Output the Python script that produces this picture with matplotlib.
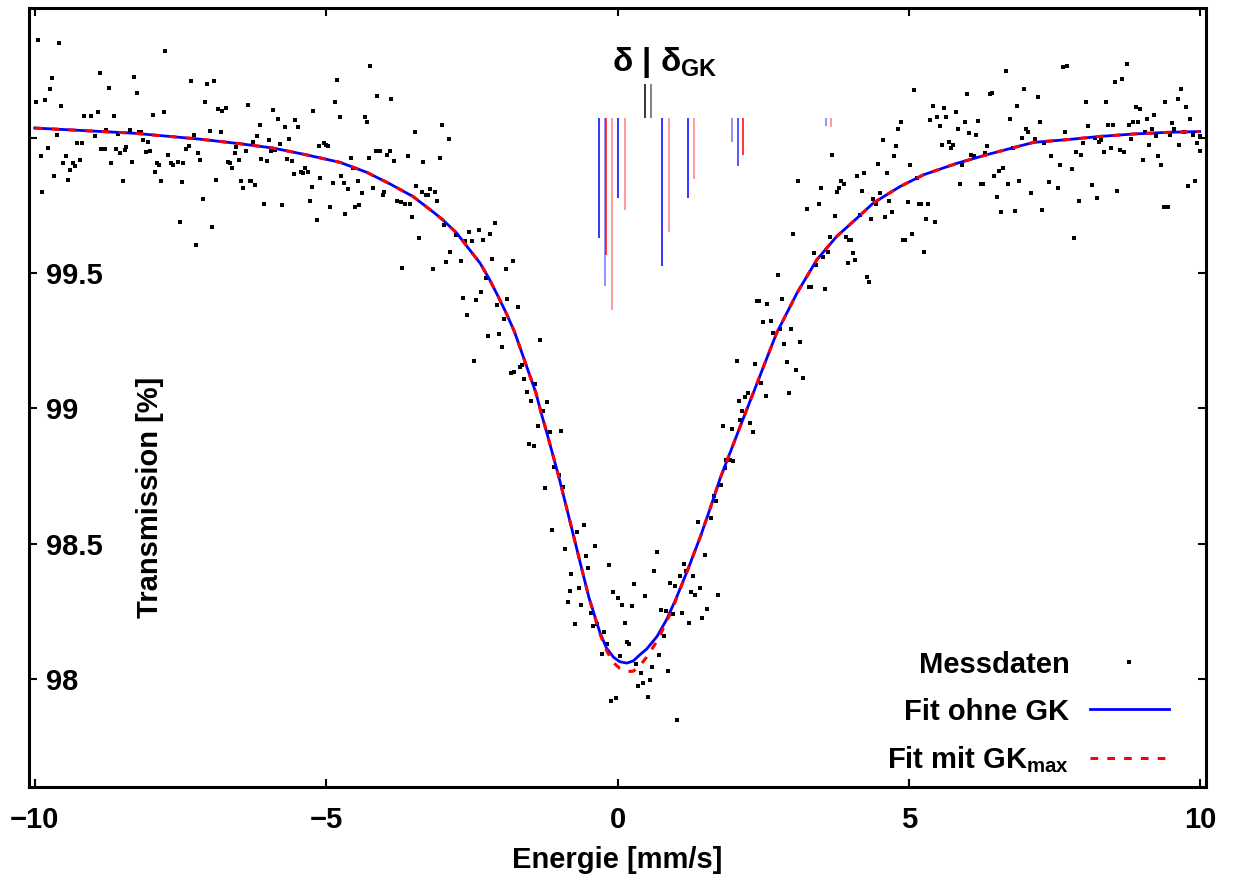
import matplotlib
matplotlib.use("Agg")
import matplotlib.pyplot as plt

plt.rcParams['font.family'] = ['Liberation Sans', 'DejaVu Sans']
plt.rcParams['font.weight'] = 'bold'
plt.rcParams['mathtext.fontset'] = 'custom'
plt.rcParams['mathtext.bf'] = 'Liberation Sans:bold'
plt.rcParams['mathtext.rm'] = 'Liberation Sans:bold'

# Messdaten (Energie in mm/s, Transmission in %)
mess_e = [
    -9.95, -9.59, -7.76, -8.88, -9.71, -8.30, -7.32, -7.05, -6.93, -9.74,
    -8.73, -8.25, -9.98, -9.83, -7.08, -9.55, -8.92, -9.16, -9.04, -8.64,
    -7.97, -7.79, -6.85, -6.78, -6.72, -6.34, -8.77, -8.37, -8.21, -8.17,
    -7.00, -6.81, -9.62, -8.97, -8.58, -7.27, -8.14, -8.06, -9.28, -9.19,
    -9.78, -8.86, -8.80, -8.61, -8.43, -8.46, -8.53, -8.09, -8.03, -7.40,
    -7.36, -7.20, -6.57, -6.54, -6.38, -9.90, -9.47, -7.72, -7.17, -6.50,
    -9.23, -9.51, -9.35, -9.31, -8.70, -8.33, -7.91, -7.87, -7.67, -7.63,
    -7.55, -7.45, -6.69, -6.65, -6.62, -9.40, -7.94, -9.67, -9.43, -8.49,
    -7.83, -7.48, -6.89, -6.46, -6.31, -6.42, -9.87, -7.12, -7.51, -6.96, -7.24,
    -4.24, -4.82, -4.12, -3.88, -4.85, -5.92, -5.22, -4.76, -4.33, -4.30,
    -5.83, -5.53, -3.02, -6.14, -5.71, -5.49, -3.48, -6.19, -2.90, -5.98,
    -6.26, -5.79, -5.64, -5.04, -5.00, -4.97, -5.12, -5.95, -5.87, -4.15,
    -4.07, -3.91, -3.96, -4.58, -4.27, -3.60, -3.05, -6.11, -6.02, -5.68,
    -5.59, -3.33, -3.84, -5.37, -5.43, -5.40, -5.31, -5.56, -4.54, -4.74,
    -5.10, -4.46, -6.29, -6.22, -4.89, -4.70, -5.25, -4.62, -4.19, -4.00,
    -4.03, -4.39, -3.45, -3.36, -3.29, -3.26, -3.21, -3.14, -3.09, -3.79,
    -3.72, -3.64, -3.56, -5.28, -6.07, -5.75, -4.94, -4.43, -4.50, -4.67,
    -3.52, -5.16, -2.98, -3.41, -2.88, -2.94, -3.69, -3.17,
    -2.77, -2.62, -2.54, -2.50, -2.38, -2.31, -2.19, -2.10, -2.16, -1.79,
    -1.91, -2.69, -2.25, -2.35, -2.65, -2.42, -1.89, -2.07, -1.71, -1.95,
    -2.58, -2.22, -2.03, -1.98, -1.33, -2.47, -1.83, -1.77, -1.67, -1.64,
    -1.61, -1.41, -1.55, -1.48, -1.21, -1.28, -1.36, -1.16, -0.97, -1.52,
    -1.43, -1.09, -1.00,
    -1.24, -0.94, -1.13, -0.70, -0.58, -0.90, -0.54, -0.39, -0.51, -0.79,
    -0.15, -0.82, -0.66, 0.28, -0.08, 0.01, 0.47, 0.62, 0.67, 0.90,
    0.99, 1.07, 1.14, 1.17, 1.29, 1.26, 1.33, 1.41, 1.50, 1.38,
    1.60, 1.69, 1.65, 1.73,
    -0.85, -0.63, -0.46, -0.73, -0.42, -0.36, -0.23, -0.18, -0.26, 0.08,
    0.25, 0.13, 0.16, 0.20, 0.05, 0.32, 0.40, 0.35, 0.44, 0.56,
    0.59, 0.52, 0.71, 0.80, 0.75, 0.83, 0.95, 1.10, 1.23, 1.45,
    1.53, 0.87, 1.02, -0.03, -0.11,
    3.68, 3.09, 3.49, 3.83, 3.88, 3.80, 3.76, 3.25, 3.45, 3.73,
    3.02, 3.64, 3.92, 3.98, 3.37, 3.61, 3.53, 3.40, 3.95, 2.75,
    3.29, 3.32, 3.56, 2.39, 2.43, 2.57, 2.82, 2.50, 2.63, 2.66,
    2.79, 2.97, 2.85, 3.13, 2.90, 3.06, 3.18, 2.05, 2.36, 2.47,
    2.54, 2.94, 2.24, 2.19, 2.08, 2.14, 2.11, 2.27, 1.81, 1.96,
    2.32, 1.87, 1.93, 1.99, 1.84, 1.78,
    5.09, 5.99, 6.39, 6.43, 5.41, 5.61, 5.81, 4.86, 5.36, 5.48,
    5.63, 5.96, 6.19, 4.82, 5.53, 5.84, 6.03, 6.15, 4.55, 4.78,
    5.57, 5.69, 5.75, 5.72, 6.34, 4.75, 6.07, 6.12, 6.30, 4.47,
    5.02, 5.91, 4.11, 4.23, 4.62, 5.14, 6.46, 6.54, 5.87, 6.23,
    6.28, 4.19, 4.51, 4.38, 4.43, 4.66, 4.99, 5.18, 5.21, 5.32,
    6.51, 4.71, 4.59, 4.35, 4.16, 5.29, 5.44, 4.01, 5.05, 4.90,
    4.94, 5.26, 4.04, 4.08, 4.28, 4.32,
    6.67, 6.74, 6.61, 6.58, 6.70, 6.89, 6.82, 6.98, 6.86, 7.01,
    7.05, 6.94, 6.79, 7.22, 7.25, 7.17, 7.10, 7.28, 7.32, 7.41,
    7.44, 7.56, 7.60, 7.65, 7.72, 7.68, 7.80, 7.84, 7.87, 7.95,
    7.92, 7.99, 8.04, 8.08, 8.15, 8.19, 8.23, 8.30, 8.27, 8.35,
    8.39, 8.42, 8.51, 8.47, 8.57, 8.54, 8.66, 8.75, 8.62, 8.69,
    8.78, 8.81, 8.85, 8.90, 8.93, 8.96, 9.02, 9.06, 9.09, 9.12,
    9.18, 9.20, 9.24, 9.28, 9.33, 9.37, 9.45, 9.40, 9.48, 9.52,
    9.55, 9.61, 9.64, 9.67, 9.72, 9.75, 9.82, 9.79, 9.87, 9.91,
    9.95, 9.99, 10.0,
]
mess_t = [
    100.36, 100.35, 100.32, 100.24, 100.22, 100.225, 100.21, 100.20, 100.21, 100.18,
    100.185, 100.166, 100.134, 100.138, 100.134, 100.118, 100.096, 100.081, 100.079, 100.081,
    100.085, 100.097, 100.108, 100.10, 100.11, 100.12, 100.03, 100.03, 100.02, 100.02,
    100.026, 100.02, 100.01, 100.007, 100.015, 100.012, 99.99, 99.985, 99.98, 99.98,
    99.964, 99.96, 99.96, 99.96, 99.967, 99.956, 99.945, 99.948, 99.952, 99.957,
    99.968, 99.945, 99.945, 99.967, 99.952, 99.934, 99.934, 99.935, 99.919, 99.919,
    99.919, 99.908, 99.908, 99.894, 99.908, 99.911, 99.905, 99.90, 99.905, 99.90,
    99.911, 99.905, 99.911, 99.908, 99.89, 99.88, 99.872, 99.86, 99.845, 99.84,
    99.84, 99.835, 99.845, 99.84, 99.84, 99.815, 99.80, 99.775, 99.69, 99.67, 99.605,
    100.267, 100.212, 100.156, 100.142, 100.134, 100.103, 100.10, 100.075, 100.075, 100.06,
    100.068, 100.064, 100.048, 100.049, 100.038, 100.038, 100.02, 100.005, 99.994, 99.99,
    99.986, 99.978, 99.994, 99.979, 99.974, 99.968, 99.968, 99.95, 99.953, 99.95,
    99.95, 99.95, 99.935, 99.927, 99.927, 99.931, 99.927, 99.92, 99.913, 99.92,
    99.913, 99.909, 99.913, 99.89, 99.872, 99.868, 99.872, 99.865, 99.887, 99.857,
    99.85, 99.842, 99.842, 99.824, 99.831, 99.831, 99.817, 99.809, 99.813, 99.80,
    99.787, 99.794, 99.82, 99.798, 99.787, 99.787, 99.809, 99.798, 99.768, 99.765,
    99.761, 99.754, 99.754, 99.765, 99.754, 99.75, 99.743, 99.75, 99.743, 99.72,
    99.706, 99.695, 99.676, 99.628, 99.576, 99.54, 99.52, 99.514,
    99.639, 99.619, 99.653, 99.619, 99.66, 99.623, 99.645, 99.686, 99.553, 99.546,
    99.516, 99.543, 99.48, 99.429, 99.406, 99.399, 99.403, 99.383, 99.373, 99.329,
    99.346, 99.266, 99.273, 99.225, 99.251, 99.174, 99.129, 99.133, 99.151, 99.159,
    99.107, 99.089, 99.059, 99.026, 99.022, 98.989, 98.933, 98.911, 98.915, 98.867,
    98.86, 98.782, 98.752,
    98.704, 98.708, 98.549, 98.542, 98.568, 98.479, 98.453, 98.49, 98.409, 98.387,
    98.42, 98.324, 98.335, 98.35, 98.32, 98.298, 98.305, 98.40, 98.468, 98.353,
    98.342, 98.379, 98.424, 98.398, 98.379, 98.32, 98.309, 98.335, 98.457, 98.579,
    98.594, 98.656, 98.675, 98.309,
    98.283, 98.272, 98.243, 98.202, 98.195, 98.202, 98.173, 98.128, 98.091, 98.272,
    98.268, 98.206, 98.136, 98.128, 98.086, 98.053, 98.021, 97.973, 97.984, 97.995,
    98.043, 97.932, 98.087, 98.157, 98.254, 98.25, 98.239, 98.243, 98.206, 98.224,
    98.257, 98.028, 97.847, 97.929, 97.918,
    99.938, 99.839, 99.813, 99.839, 99.828, 99.813, 99.798, 99.735, 99.754, 99.709,
    99.643, 99.632, 99.635, 99.623, 99.573, 99.577, 99.56, 99.528, 99.536, 99.491,
    99.447, 99.447, 99.44, 99.395, 99.395, 99.384, 99.403, 99.318, 99.322, 99.277,
    99.292, 99.292, 99.236, 99.244, 99.17, 99.14, 99.111, 99.174, 99.163, 99.093,
    99.044, 99.055, 99.055, 99.041, 99.026, 98.989, 98.956, 98.945, 98.934, 98.922,
    98.911, 98.808, 98.808, 98.805, 98.778, 98.716,
    100.177, 100.16, 100.16, 100.164, 100.119, 100.11, 100.097, 100.057, 100.067, 100.075,
    100.078, 100.06, 100.063, 100.031, 100.044, 100.033, 100.018, 100.012, 99.99, 99.97,
    99.974, 99.983, 99.974, 99.963, 99.968, 99.933, 99.937, 99.933, 99.942, 99.904,
    99.90, 99.898, 99.86, 99.871, 99.871, 99.85, 99.86, 99.878, 99.828, 99.828,
    99.828, 99.805, 99.794, 99.775, 99.754, 99.768, 99.761, 99.757, 99.754, 99.754,
    99.78, 99.724, 99.706, 99.70, 99.713, 99.698, 99.687, 99.623, 99.643, 99.621,
    99.621, 99.576, 99.573, 99.547, 99.484, 99.466,
    100.245, 100.068, 99.887, 99.724, 99.828, 99.839, 99.728, 100.182, 100.119, 100.031,
    100.023, 99.998, 99.964, 100.149, 100.057, 99.994, 99.794, 99.732, 99.979, 99.835,
    99.931, 99.813, 99.898, 100.26, 100.264, 100.02, 99.883, 99.628, 99.946, 99.938,
    99.768, 99.979, 100.134, 100.042, 99.824, 100.001, 99.776, 99.99, 99.983, 99.946,
    100.134, 100.046, 100.049, 99.961, 99.802, 100.208, 100.219, 100.271, 99.953, 99.946,
    100.046, 99.994, 100.06, 100.112, 100.06, 100.105, 99.916, 100.02, 100.068, 99.972,
    100.034, 100.083, 100.005, 99.931, 99.901, 99.743, 99.743, 100.134, 100.012, 100.053,
    100.031, 100.142, 99.975, 100.182, 100.023, 100.112, 100.068, 99.82, 100.012, 99.842,
    99.979, 99.95, 100.005,
]

# Fitkurven
fit_e = [-10.0, -8.31, -7.17, -6.48, -5.91, -5.34, -4.76, -4.30, -3.91, -3.51,
         -3.16, -3.00, -2.76, -2.56, -2.36, -2.20, -2.05, -1.91, -1.77, -1.61,
         -1.50, -1.40, -1.30, -1.22, -1.01, -0.81, -0.64, -0.49, -0.30, -0.19,
         -0.07, 0.04, 0.16, 0.27, 0.39, 0.50, 0.68, 0.84, 1.00, 1.20,
         1.43, 1.59, 1.76, 2.10, 2.39, 2.73, 3.08, 3.42, 3.76, 4.11,
         4.39, 4.85, 5.25, 5.83, 6.40, 7.14, 7.71, 8.28, 8.86, 9.43, 9.99]
# Fit ohne GK (blau)
fit_ohne_t = [100.036, 100.017, 99.995, 99.978, 99.962, 99.937, 99.909, 99.872, 99.830, 99.783,
              99.725, 99.697, 99.648, 99.592, 99.537, 99.478, 99.414, 99.352, 99.284, 99.186,
              99.118, 99.057, 98.975, 98.915, 98.749, 98.577, 98.429, 98.300, 98.170, 98.114,
              98.080, 98.063, 98.058, 98.066, 98.090, 98.110, 98.157, 98.218, 98.294, 98.400,
              98.530, 98.630, 98.740, 98.930, 99.090, 99.278, 99.426, 99.549, 99.635, 99.703,
              99.759, 99.820, 99.863, 99.906, 99.941, 99.983, 99.993, 100.005, 100.014, 100.020, 100.023]
# Fit mit GK_max (rot)
fit_mit_t = [100.036, 100.017, 99.995, 99.978, 99.962, 99.937, 99.909, 99.872, 99.830, 99.783,
             99.725, 99.697, 99.648, 99.592, 99.537, 99.478, 99.414, 99.352, 99.284, 99.186,
             99.118, 99.057, 98.975, 98.915, 98.749, 98.577, 98.429, 98.300, 98.165, 98.105,
             98.060, 98.038, 98.027, 98.028, 98.050, 98.080, 98.140, 98.210, 98.290, 98.400,
             98.530, 98.630, 98.740, 98.930, 99.090, 99.278, 99.426, 99.549, 99.635, 99.703,
             99.759, 99.820, 99.863, 99.906, 99.941, 99.983, 99.993, 100.005, 100.014, 100.020, 100.023]

# Strichdiagramm der Teillinien
stick_top = 100.072
blue_e = [-0.31, -0.22, 0.01, 0.77, 1.21, 1.96, 2.06, 3.57]
blue_t = [99.629, 99.452, 99.777, 99.526, 99.777, 99.985, 99.896, 100.043]
blue_alpha = [1, 0.55, 1, 1, 1, 0.55, 0.85, 0.55]
red_e = [-0.20, -0.10, 0.13, 0.88, 1.31, 2.16, 3.67]
red_t = [99.566, 99.363, 99.733, 99.651, 99.847, 99.936, 100.039]
red_alpha = [1, 0.5, 0.5, 0.5, 0.5, 1, 0.5]
delta_e = [0.47, 0.575]
delta_top = 100.198

fs = 21
fig = plt.figure(figsize=(12.37, 8.81), dpi=100)
ax = fig.add_axes([0.0234, 0.1067, 0.9516, 0.8843])

ax.plot(mess_e, mess_t, linestyle='none', marker='s', ms=2.9, mew=0,
        color='black', label='Messdaten', zorder=2)
ax.plot(fit_e, fit_ohne_t, color='#0000ff', lw=2.0, label='Fit ohne GK', zorder=3)
ax.plot(fit_e, fit_mit_t, color='#ff0000', lw=2.2, linestyle=(0, (2.5, 3)),
        label='Fit mit GK$_{\\mathbf{max}}$', zorder=4)

for e, t, a in zip(blue_e, blue_t, blue_alpha):
    ax.vlines(e, t, stick_top, color='#0000ff', alpha=a, lw=1.1)
for e, t, a in zip(red_e, red_t, red_alpha):
    ax.vlines(e, t, stick_top, color='#ff0000', alpha=a, lw=1.1)
ax.vlines(delta_e[0], stick_top, delta_top, color='black', lw=1.1)
ax.vlines(delta_e[1], stick_top, delta_top, color='#777777', lw=1.3)
ax.text(0.81, 100.28, 'δ | δ$_{\\mathbf{GK}}$', ha='center', va='center',
        fontsize=24, fontweight='bold')

ax.set_xlim(-10.1, 10.1)
ax.set_ylim(97.6, 100.48)
ax.set_xticks([-10, -5, 0, 5, 10])
ax.set_yticks([98, 98.5, 99, 99.5, 100])
ax.set_yticklabels(['98', '98.5', '99', '99.5', ''])
ax.tick_params(direction='in', top=True, right=True, length=6, width=1.5,
               labelsize=fs)
ax.tick_params(axis='x', pad=14)
ax.tick_params(axis='y', pad=-12)
for lab in ax.get_yticklabels():
    lab.set_horizontalalignment('left')
for sp in ax.spines.values():
    sp.set_linewidth(2.2)

ax.set_xlabel('Energie [mm/s]', fontsize=fs, fontweight='bold', labelpad=8)
ax.text(0.103, 0.372, 'Transmission [%]', transform=ax.transAxes, rotation=90,
        ha='center', va='center', fontsize=fs, fontweight='bold')

ax.legend(loc='lower right', bbox_to_anchor=(0.978, 0.0), frameon=False,
          markerfirst=False, fontsize=fs, handlelength=2.7, handletextpad=0.7,
          labelspacing=0.65, markerscale=1.0, borderaxespad=0.0)

fig.savefig('out.png', dpi=100)
